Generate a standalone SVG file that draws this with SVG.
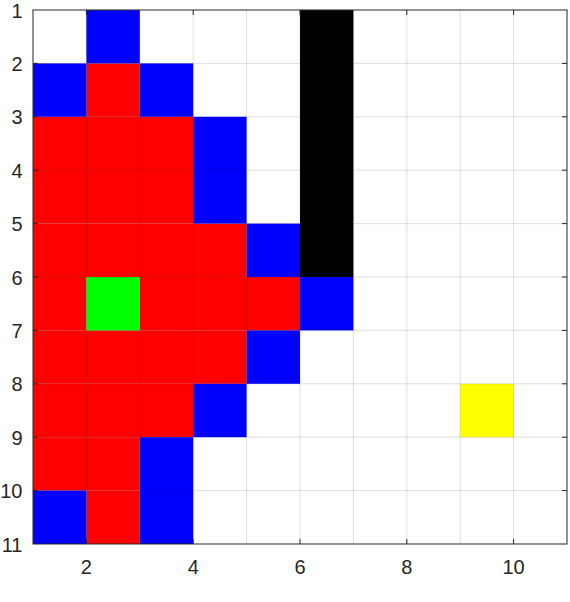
<svg xmlns="http://www.w3.org/2000/svg" width="570" height="602" viewBox="0 0 570 602">
<style>
.r{fill:#ff0000}.b{fill:#0000ff}.k{fill:#000000}.g{fill:#00ff00}.y{fill:#ffff00}
.grid line{stroke:#262626;stroke-opacity:0.15;stroke-width:1}
.ax{fill:none;stroke:#262626;stroke-width:1}
.tk line{stroke:#262626;stroke-width:1}
text{font-family:"Liberation Sans",Arial,sans-serif;font-size:20px;fill:#262626}
.xl{text-anchor:middle}.yl{text-anchor:end}
</style>
<rect x="0" y="0" width="570" height="602" fill="#ffffff"/>
<g id="cells">
<rect class="r" x="86.4" y="63.4" width="53.4" height="53.4"/>
<rect class="r" x="33" y="116.8" width="160.2" height="106.8"/>
<rect class="r" x="33" y="223.6" width="213.6" height="53.4"/>
<rect class="r" x="33" y="277" width="53.4" height="53.4"/>
<rect class="r" x="139.8" y="277" width="160.2" height="53.4"/>
<rect class="r" x="33" y="330.4" width="213.6" height="53.4"/>
<rect class="r" x="33" y="383.8" width="160.2" height="53.4"/>
<rect class="r" x="33" y="437.2" width="106.8" height="53.4"/>
<rect class="r" x="86.4" y="490.6" width="53.4" height="53.4"/>
<rect class="b" x="86.4" y="10" width="53.4" height="53.4"/>
<rect class="b" x="33" y="63.4" width="53.4" height="53.4"/>
<rect class="b" x="139.8" y="63.4" width="53.4" height="53.4"/>
<rect class="b" x="193.2" y="116.8" width="53.4" height="106.8"/>
<rect class="b" x="246.6" y="223.6" width="53.4" height="53.4"/>
<rect class="b" x="300" y="277" width="53.4" height="53.4"/>
<rect class="b" x="246.6" y="330.4" width="53.4" height="53.4"/>
<rect class="b" x="193.2" y="383.8" width="53.4" height="53.4"/>
<rect class="b" x="139.8" y="437.2" width="53.4" height="106.8"/>
<rect class="b" x="33" y="490.6" width="53.4" height="53.4"/>
<rect class="k" x="300" y="10" width="53.4" height="267"/>
<rect class="g" x="86.4" y="277" width="53.4" height="53.4"/>
<rect class="y" x="460.2" y="383.8" width="53.4" height="53.4"/>
</g>
<g class="grid">
<line x1="86.4" y1="10" x2="86.4" y2="544"/>
<line x1="139.8" y1="10" x2="139.8" y2="544"/>
<line x1="193.2" y1="10" x2="193.2" y2="544"/>
<line x1="246.6" y1="10" x2="246.6" y2="544"/>
<line x1="300" y1="10" x2="300" y2="544"/>
<line x1="353.4" y1="10" x2="353.4" y2="544"/>
<line x1="406.8" y1="10" x2="406.8" y2="544"/>
<line x1="460.2" y1="10" x2="460.2" y2="544"/>
<line x1="513.6" y1="10" x2="513.6" y2="544"/>
<line x1="33" y1="63.4" x2="567" y2="63.4"/>
<line x1="33" y1="116.8" x2="567" y2="116.8"/>
<line x1="33" y1="170.2" x2="567" y2="170.2"/>
<line x1="33" y1="223.6" x2="567" y2="223.6"/>
<line x1="33" y1="277" x2="567" y2="277"/>
<line x1="33" y1="330.4" x2="567" y2="330.4"/>
<line x1="33" y1="383.8" x2="567" y2="383.8"/>
<line x1="33" y1="437.2" x2="567" y2="437.2"/>
<line x1="33" y1="490.6" x2="567" y2="490.6"/>
</g>
<rect class="ax" x="33" y="10" width="534" height="534"/>
<g class="tk">
<line x1="86.4" y1="544" x2="86.4" y2="539"/><line x1="86.4" y1="10" x2="86.4" y2="15"/>
<line x1="193.2" y1="544" x2="193.2" y2="539"/><line x1="193.2" y1="10" x2="193.2" y2="15"/>
<line x1="300" y1="544" x2="300" y2="539"/><line x1="300" y1="10" x2="300" y2="15"/>
<line x1="406.8" y1="544" x2="406.8" y2="539"/><line x1="406.8" y1="10" x2="406.8" y2="15"/>
<line x1="513.6" y1="544" x2="513.6" y2="539"/><line x1="513.6" y1="10" x2="513.6" y2="15"/>
<line x1="33" y1="63.4" x2="38" y2="63.4"/><line x1="567" y1="63.4" x2="562" y2="63.4"/>
<line x1="33" y1="116.8" x2="38" y2="116.8"/><line x1="567" y1="116.8" x2="562" y2="116.8"/>
<line x1="33" y1="170.2" x2="38" y2="170.2"/><line x1="567" y1="170.2" x2="562" y2="170.2"/>
<line x1="33" y1="223.6" x2="38" y2="223.6"/><line x1="567" y1="223.6" x2="562" y2="223.6"/>
<line x1="33" y1="277" x2="38" y2="277"/><line x1="567" y1="277" x2="562" y2="277"/>
<line x1="33" y1="330.4" x2="38" y2="330.4"/><line x1="567" y1="330.4" x2="562" y2="330.4"/>
<line x1="33" y1="383.8" x2="38" y2="383.8"/><line x1="567" y1="383.8" x2="562" y2="383.8"/>
<line x1="33" y1="437.2" x2="38" y2="437.2"/><line x1="567" y1="437.2" x2="562" y2="437.2"/>
<line x1="33" y1="490.6" x2="38" y2="490.6"/><line x1="567" y1="490.6" x2="562" y2="490.6"/>
</g>
<g id="xlabels">
<text class="xl" x="86.4" y="574">2</text>
<text class="xl" x="193.2" y="574">4</text>
<text class="xl" x="300" y="574">6</text>
<text class="xl" x="406.8" y="574">8</text>
<text class="xl" x="513.6" y="574">10</text>
</g>
<g id="ylabels">
<text class="yl" x="22.5" y="17.5">1</text>
<text class="yl" x="22.5" y="70.9">2</text>
<text class="yl" x="22.5" y="124.3">3</text>
<text class="yl" x="22.5" y="177.7">4</text>
<text class="yl" x="22.5" y="231.1">5</text>
<text class="yl" x="22.5" y="284.5">6</text>
<text class="yl" x="22.5" y="337.9">7</text>
<text class="yl" x="22.5" y="391.3">8</text>
<text class="yl" x="22.5" y="444.7">9</text>
<text class="yl" x="22.5" y="498.1">10</text>
<text class="yl" x="22.5" y="551.5">11</text>
</g>
</svg>
